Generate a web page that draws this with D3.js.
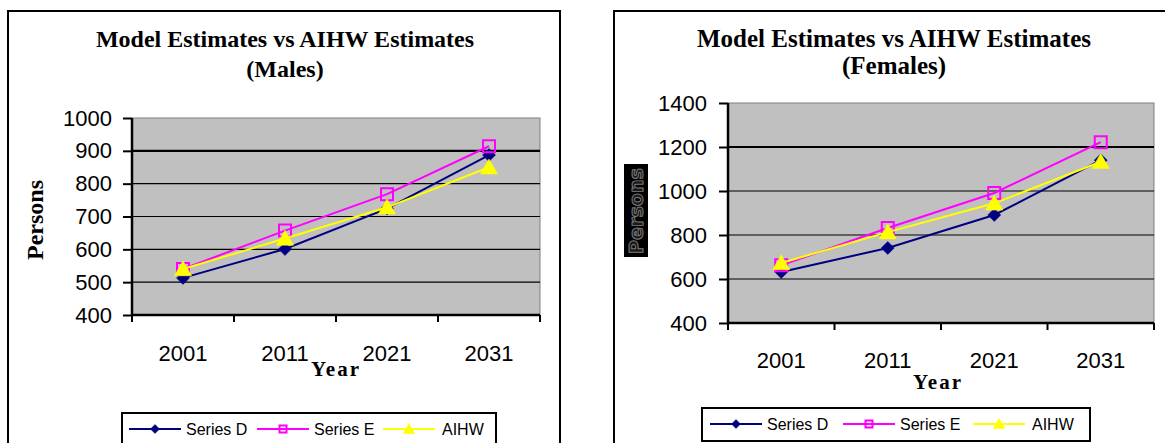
<!DOCTYPE html>
<html>
<head>
<meta charset="utf-8">
<script src="https://cdnjs.cloudflare.com/ajax/libs/d3/7.8.5/d3.min.js"></script>
<style>
  body { margin: 0; background: #fff; }
  svg { display: block; }
</style>
</head>
<body>
<svg id="main-chart" width="1165" height="443"></svg>
<script>
// values
var years = ["2001", "2011", "2021", "2031"];
var seriesNames = ["Series D", "Series E", "AIHW"];

var malesD = [513, 601, 724, 887];
var malesE = [540, 657, 768, 914];
var malesAIHW = [540, 633, 728, 850];

var femalesD = [632, 741, 891, 1140];
var femalesE = [662, 832, 991, 1222];
var femalesAIHW = [673, 813, 944, 1133];

var malesTicks = [400, 500, 600, 700, 800, 900, 1000];
var femalesTicks = [400, 600, 800, 1000, 1200, 1400];

var colors = ["#000080", "#ff00ff", "#ffff00"];
var markers = ["diamond", "square", "triangle"];

var svg = d3.select("#main-chart");

function markerPath(type, r) {
  if (type == "diamond") return "M0," + (-r) + "L" + r + ",0L0," + r + "L" + (-r) + ",0Z";
  if (type == "square") return "M" + (-r) + "," + (-r) + "h" + (2 * r) + "v" + (2 * r) + "h" + (-2 * r) + "Z";
  return "M0," + (-r * 1.1) + "L" + (r * 1.15) + "," + (r * 0.9) + "L" + (-r * 1.15) + "," + (r * 0.9) + "Z";
}

function drawMarker(g, type, color, x, y, r) {
  var p = g.append("path")
    .attr("transform", "translate(" + x + "," + y + ")")
    .attr("d", markerPath(type, r));
  if (type == "square") p.attr("fill", "none").attr("stroke", color).attr("stroke-width", 2);
  else p.attr("fill", color).attr("stroke", color).attr("stroke-width", 0.5);
}

function drawChart(c) {
  var g = svg.append("g");

  // outer chart frame
  g.append("rect").attr("x", c.box[0]).attr("y", c.box[1])
    .attr("width", c.box[2]).attr("height", c.box[3])
    .attr("fill", "none").attr("stroke", "#000").attr("stroke-width", 2);

  // title
  var t = g.append("text").attr("text-anchor", "middle")
    .attr("font-family", "Liberation Serif").attr("font-weight", "bold")
    .attr("font-size", c.titleSize);
  t.append("tspan").attr("x", c.titleX).attr("y", 47).text("Model Estimates vs AIHW Estimates");
  t.append("tspan").attr("x", c.titleX).attr("y", c.title2Y).text(c.subtitle);

  var x = d3.scaleBand().domain(years).range([c.left, c.right]);
  var y = d3.scaleLinear().domain([c.ticks[0], c.ticks[c.ticks.length - 1]]).range([c.bottom, c.top]);

  g.append("rect").attr("x", c.left).attr("y", c.top)
    .attr("width", c.right - c.left).attr("height", c.bottom - c.top)
    .attr("fill", "#c0c0c0").attr("stroke", "#808080").attr("stroke-width", 1);

  // gridlines
  g.selectAll(".grid").data(c.ticks.slice(1, -1)).enter().append("line")
    .attr("x1", c.left).attr("x2", c.right)
    .attr("y1", function(d) { return y(d); }).attr("y2", function(d) { return y(d); })
    .attr("stroke", "#000")
    .attr("stroke-width", function(d) { return d == c.boldGrid ? 2.2 : 1.2; });

  // axes
  var yAxis = d3.axisLeft(y).tickValues(c.ticks).tickFormat(d3.format("d"))
    .tickSize(9).tickPadding(c.yPad);
  var ya = g.append("g").attr("transform", "translate(" + c.left + ",0)").call(yAxis);
  var xAxis = d3.axisBottom(x).tickSize(0).tickPadding(c.xPad);
  var xa = g.append("g").attr("transform", "translate(0," + c.bottom + ")").call(xAxis);
  [ya, xa].forEach(function(a) {
    a.select(".domain").attr("stroke", "#000").attr("stroke-width", 2.5);
    a.selectAll(".tick line").attr("stroke", "#000").attr("stroke-width", 2);
    a.selectAll("text").attr("font-family", "Liberation Sans").attr("font-size", 22).attr("fill", "#000");
  });
  xa.select(".domain").attr("d", "M" + c.left + ",0H" + c.right);
  ya.select(".domain").attr("d", "M0," + c.bottom + "V" + c.top);
  // category separator ticks on the x axis
  var seps = years.map(function(d) { return x(d); }).concat([c.right]);
  xa.selectAll(".sep").data(seps).enter().append("line")
    .attr("x1", function(d) { return d; }).attr("x2", function(d) { return d; })
    .attr("y1", 0).attr("y2", 7).attr("stroke", "#000").attr("stroke-width", 2);

  // axis titles
  g.append("text").attr("x", c.yearX).attr("y", c.yearY).attr("text-anchor", "middle")
    .attr("font-family", "Liberation Serif").attr("font-weight", "bold")
    .attr("font-size", 21).attr("letter-spacing", 2).text("Year");

  if (c.personsBoxed) {
    g.append("rect").attr("x", c.personsX - 12).attr("y", c.personsY - 47)
      .attr("width", 24).attr("height", 93).attr("fill", "#000");
    g.append("text").attr("transform", "translate(" + (c.personsX + 7) + "," + c.personsY + ") rotate(-90)")
      .attr("text-anchor", "middle").attr("font-family", "DejaVu Sans").attr("font-weight", "bold")
      .attr("font-size", 20).attr("textLength", 86).attr("lengthAdjust", "spacingAndGlyphs")
      .attr("fill", "#1a1a1a").attr("stroke", "#7a7a7a").attr("stroke-width", 1)
      .text("Persons");
  } else {
    g.append("text").attr("transform", "translate(" + (c.personsX + 8) + "," + c.personsY + ") rotate(-90)")
      .attr("text-anchor", "middle").attr("font-family", "Liberation Serif").attr("font-weight", "bold")
      .attr("font-size", 24).text("Persons");
  }

  // series lines and markers
  var line = d3.line().x(function(d, i) { return x(years[i]) + x.bandwidth() / 2; })
    .y(function(d) { return y(d); });
  var sizes = [6.5, 6, 7.5];
  c.series.forEach(function(s, k) {
    g.append("path").datum(s).attr("d", line).attr("fill", "none")
      .attr("stroke", colors[k]).attr("stroke-width", 2);
    s.forEach(function(v, i) {
      drawMarker(g, markers[k], colors[k], x(years[i]) + x.bandwidth() / 2, y(v), sizes[k]);
    });
  });

  // legend
  var L = c.legend;
  g.append("rect").attr("x", L.x).attr("y", L.y).attr("width", L.w).attr("height", 33)
    .attr("fill", "#fff").attr("stroke", "#000").attr("stroke-width", 2);
  var ly = L.y + 16;
  seriesNames.forEach(function(name, k) {
    var lx = L.items[k];
    g.append("line").attr("x1", lx).attr("x2", lx + 52).attr("y1", ly).attr("y2", ly)
      .attr("stroke", colors[k]).attr("stroke-width", 2);
    drawMarker(g, markers[k], colors[k], lx + 26, ly, k == 0 ? 4.5 : (k == 1 ? 3.5 : 5));
    g.append("text").attr("x", lx + (k == 2 ? 59 : 57)).attr("y", ly + 6)
      .attr("font-family", "Liberation Sans").attr("font-size", 16).text(name);
  });
}

drawChart({
  box: [8, 11, 552, 440], titleX: 285, titleSize: 24, subtitle: "(Males)", title2Y: 77,
  left: 132, right: 540, top: 118, bottom: 315, ticks: malesTicks, boldGrid: 900,
  yPad: 11, xPad: 30, yearX: 336, yearY: 376, personsX: 35, personsY: 220,
  personsBoxed: false,
  series: [malesD, malesE, malesAIHW],
  legend: { x: 122, y: 413, w: 374, items: [129, 257, 383] }
});

drawChart({
  box: [614, 11, 560, 440], titleX: 894, titleSize: 25, subtitle: "(Females)", title2Y: 74,
  left: 728, right: 1154, top: 103, bottom: 323, ticks: femalesTicks, boldGrid: 1200,
  yPad: 12, xPad: 29, yearX: 938, yearY: 389, personsX: 636, personsY: 211,
  personsBoxed: true,
  series: [femalesD, femalesE, femalesAIHW],
  legend: { x: 702, y: 408, w: 388, items: [710, 843, 973] }
});
</script>
</body>
</html>
